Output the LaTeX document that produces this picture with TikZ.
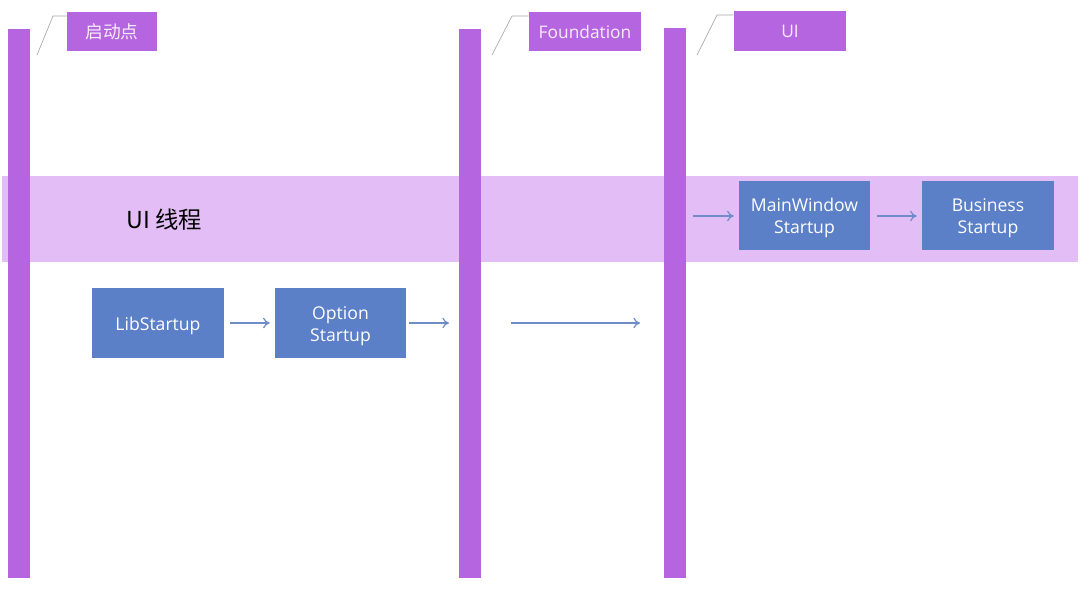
\documentclass[tikz,border=0pt]{standalone}
\usepackage{fontspec}
\setmainfont{Open Sans}
\newfontfamily\cjk{Noto Sans CJK SC}
\usetikzlibrary{arrows.meta}
\definecolor{barc}{HTML}{B565E0}
\definecolor{bandc}{HTML}{E3BDF5}
\definecolor{boxc}{HTML}{5B80C8}
\definecolor{arrc}{HTML}{6E8DC8}
\definecolor{slantc}{HTML}{A8A8A8}
\definecolor{lbltext}{HTML}{F8ECFC}
\begin{document}
\begin{tikzpicture}[x=0.75pt,y=-0.75pt,
  lane/.style={fill=barc,draw=none,inner sep=0pt,minimum width=16.5pt},
  lanelabel/.style={fill=barc,draw=none,inner sep=0pt,text=lbltext,minimum height=29.25pt,font=\fontsize{13}{15}\selectfont},
  bluebox/.style={fill=boxc,draw=none,inner sep=0pt,minimum height=52.5pt},
  boxtext/.style={text=white,align=center,inner sep=0pt,yshift=-2pt,font=\fontsize{13.2}{16.5}\selectfont},
  flow/.style={draw=arrc,line width=0.9pt,-{To[length=5pt,width=8pt]}},
  slant/.style={draw=slantc,line width=0.5pt}]
\useasboundingbox (0,0) rectangle (1080,601);
\fill[white] (0,0) rectangle (1080,601);
% band
\node[fill=bandc,draw=none,inner sep=0pt,minimum width=807pt,minimum height=64.5pt] (band) at (540,219) {};
\node[font=\cjk\fontsize{17.5}{20}\selectfont,text=black] (bandlbl) at (164,220) {UI 线程};
% lanes
\node[lane,minimum height=411.75pt] (bar1) at (19,303.5) {};
\node[lane,minimum height=411.75pt] (bar2) at (470,303.5) {};
\node[lane,minimum height=412.5pt] (bar3) at (675,303) {};
% lane labels
\node[lanelabel,minimum width=67.5pt,font=\cjk\fontsize{13.3}{15}\selectfont] (lbl1) at (112,31.5) {启动点};
\node[lanelabel,minimum width=84pt] (lbl2) at (585,31.5) {Foundation};
\node[lanelabel,minimum width=84pt,minimum height=30pt] (lbl3) at (790,31) {UI};
\draw[slant] (37,55) -- (53,16) -- (lbl1.west |- 0,16);
\draw[slant] (492,55) -- (512,16) -- (lbl2.west |- 0,16);
\draw[slant] (697,55) -- (717,15) -- (lbl3.west |- 0,15);
% boxes
\node[bluebox,minimum width=99pt,label={[boxtext]center:LibStartup}] (lib) at (158,323) {};
\node[bluebox,minimum width=98.25pt,label={[boxtext]center:{Option\\Startup}}] (opt) at (340.5,323) {};
\node[bluebox,minimum width=98.25pt,minimum height=51.75pt,label={[boxtext]center:{MainWindow\\Startup}}] (mw) at (804.5,215.5) {};
\node[bluebox,minimum width=99pt,minimum height=51.75pt,label={[boxtext]center:{Business\\Startup}}] (biz) at (988,215.5) {};
% arrows
\coordinate (a1) at (449,323);
\coordinate (a2s) at (511,323);
\coordinate (a2e) at (640,323);
\coordinate (a3s) at (693,216);
\draw[flow] ([xshift=4.5pt]lib.east) -- ([xshift=-3.75pt]opt.west);
\draw[flow] ([xshift=2.25pt]opt.east) -- (a1);
\draw[flow] (a2s) -- (a2e);
\draw[flow] (a3s) -- ([xshift=-3.75pt]mw.west |- a3s);
\draw[flow] ([xshift=5.25pt]mw.east |- a3s) -- ([xshift=-3.75pt]biz.west |- a3s);
\end{tikzpicture}
\end{document}
